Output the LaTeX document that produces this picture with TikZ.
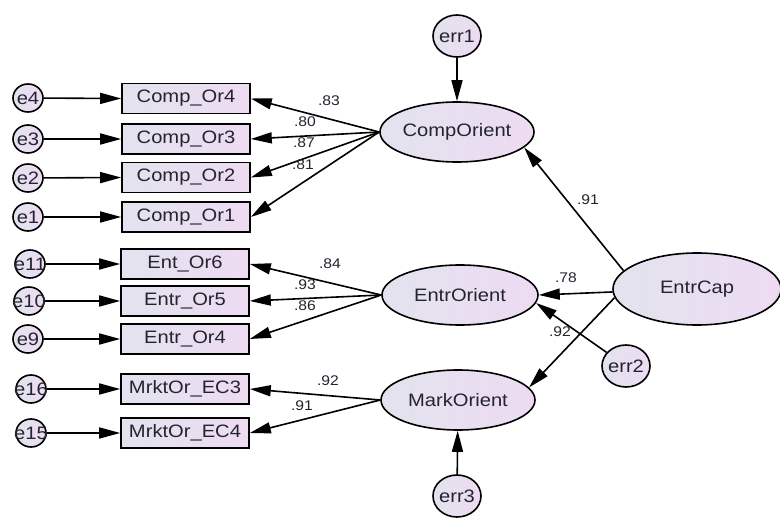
\documentclass[tikz,border=0pt]{standalone}
\usepackage{fontspec}
\setmainfont{Liberation Sans}[FakeStretch=1.12]
\usetikzlibrary{arrows.meta,shapes.geometric}
\definecolor{lavL}{HTML}{E2E3EE}
\definecolor{lavR}{HTML}{EEDBF2}
\definecolor{ink}{HTML}{24242F}
\begin{document}
\begin{tikzpicture}[x=1pt,y=-1pt,line width=1.6pt,
  obs/.style={draw,rectangle,minimum width=128pt,minimum height=30pt,inner sep=0pt,
    left color=lavL,right color=lavR,text=ink,font=\fontsize{18}{18}\selectfont},
  lat/.style={draw,ellipse,inner sep=0pt,left color=lavL,right color=lavR,text=ink,
    font=\fontsize{18}{18}\selectfont},
  errs/.style={draw,ellipse,inner sep=0pt,minimum width=30pt,minimum height=28pt,
    left color=lavL,right color=lavR,text=ink,font=\fontsize{18}{18}\selectfont},
  errb/.style={draw,ellipse,inner sep=0pt,minimum width=48pt,minimum height=42pt,
    left color=lavL,right color=lavR,text=ink,font=\fontsize{18}{18}\selectfont},
  arr/.style={-{Triangle[length=21pt,width=11pt]}},
  coef/.style={inner sep=0pt,text=ink,font=\fontsize{14}{14}\selectfont}]
\useasboundingbox (0,0) rectangle (780,519);
\fill[white] (0,0) rectangle (780,519);
% latent variables
\node[lat,minimum width=154pt,minimum height=60pt] (CO) at (457,132) {CompOrient};
\node[lat,minimum width=156pt,minimum height=60pt] (EO) at (460,295) {EntrOrient};
\node[lat,minimum width=154pt,minimum height=60pt] (MO) at (458,400) {MarkOrient};
\node[lat,minimum width=168pt,minimum height=72pt] (EC) at (697,289) {EntrCap};
% residuals of latents
\node[errb] (err1) at (457,36) {\makebox[0pt]{err1}};
\node[errb] (err2) at (626,366) {\makebox[0pt]{err2}};
\node[errb] (err3) at (457,496) {\makebox[0pt]{err3}};
% observed
\node[obs] (c4) at (186,98.5) {Comp\_Or4};
\node[obs] (c3) at (186,139) {Comp\_Or3};
\node[obs] (c2) at (186,177.5) {Comp\_Or2};
\node[obs] (c1) at (186,217) {Comp\_Or1};
\node[obs] (n6) at (185,264) {Ent\_Or6};
\node[obs] (n5) at (185,301) {Entr\_Or5};
\node[obs] (n4) at (185,339) {Entr\_Or4};
\node[obs] (m3) at (185,389) {MrktOr\_EC3};
\node[obs] (m4) at (185,433) {MrktOr\_EC4};
% errors of observed
\node[errs] (e4) at (28,98) {\makebox[0pt]{e4}};
\node[errs] (e3) at (28,139) {\makebox[0pt]{e3}};
\node[errs] (e2) at (28,178) {\makebox[0pt]{e2}};
\node[errs] (e1) at (28,217) {\makebox[0pt]{e1}};
\node[errs] (e11) at (30,264) {\makebox[0pt]{e11}};
\node[errs] (e10) at (29,301) {\makebox[0pt]{e10}};
\node[errs] (e9) at (28,339) {\makebox[0pt]{e9}};
\node[errs] (e16) at (31,389) {\makebox[0pt]{e16}};
\node[errs] (e15) at (31,433) {\makebox[0pt]{e15}};
% error arrows
\foreach \a/\b in {e4/c4,e3/c3,e2/c2,e1/c1,e11/n6,e10/n5,e9/n4,e16/m3,e15/m4}
  \draw[arr] (\a) -- (\b.west);
\draw[arr] (err1) -- (CO);
\draw[arr] (err3) -- (MO);
\draw[arr] (err2.145) -- (EO.-6);
% loadings
\foreach \b in {c4,c3,c2,c1} \draw[arr] (CO.west) -- (\b.east);
\foreach \b in {n6,n5,n4} \draw[arr] (EO.west) -- (\b.east);
\foreach \b in {m3,m4} \draw[arr] (MO.west) -- (\b.east);
% structural
\draw[arr] (EC.166) -- (CO.-13);
\draw[arr] (EC.182) -- (EO.east);
\draw[arr] (EC.186) -- (MO.10);
% coefficients
\node[coef] (k1) at (329,101) {.83};
\node[coef] (k2) at (305,122) {.80};
\node[coef] (k3) at (304,143) {.87};
\node[coef] (k4) at (303,165) {.81};
\node[coef] (k5) at (330,264) {.84};
\node[coef] (k6) at (305,285) {.93};
\node[coef] (k7) at (305,306) {.86};
\node[coef] (k8) at (328,381) {.92};
\node[coef] (k9) at (302,406) {.91};
\node[coef] (k10) at (588,200) {.91};
\node[coef] (k11) at (566,278) {.78};
\node[coef] (k12) at (560,332) {.92};
\end{tikzpicture}
\end{document}
